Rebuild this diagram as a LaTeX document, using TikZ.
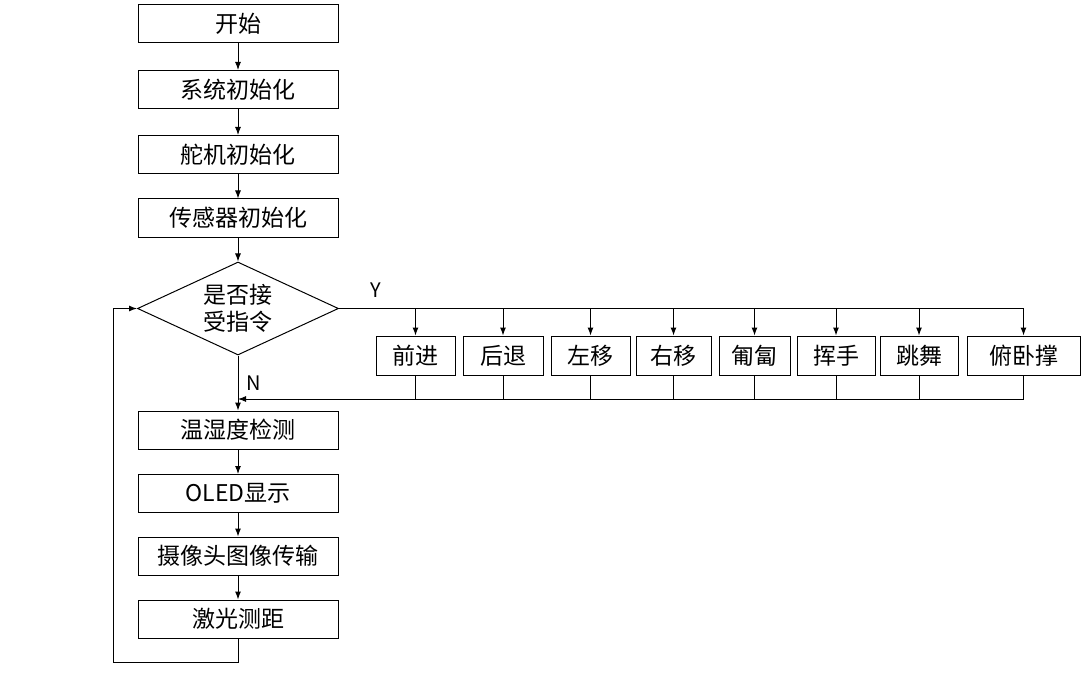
\documentclass[tikz,border=0pt]{standalone}
\usepackage{fontspec}
\setmainfont{Noto Sans CJK SC}
\usetikzlibrary{shapes,arrows,arrows.meta,positioning,calc}

\begin{document}
\begin{tikzpicture}[x=1pt, y=1pt, node distance=64pt, auto, font=\fontsize{23pt}{27pt}\selectfont]
    \tikzstyle{process} = [rectangle, draw, line width=1pt, minimum width=200pt, minimum height=38pt, inner sep=0pt]
    \tikzstyle{action} = [rectangle, draw, line width=1pt, minimum width=79pt, minimum height=39pt, inner sep=0pt]
    \tikzstyle{decision} = [diamond, draw, line width=1pt, aspect=2.16, minimum width=201pt, minimum height=93pt, inner sep=0pt, align=center]
    \tikzstyle{arrow} = [draw, -{Latex[length=8pt,width=6pt]}, line width=1pt]
    \tikzstyle{line} = [draw, line width=1pt]
    \tikzstyle{flag} = [font=\fontsize{20pt}{24pt}\selectfont]

    \useasboundingbox (0,0) rectangle (1085,-682);

    % Initialisation
    \node[process] (start) at (238,-24) {开始};
    \node[process, node distance=65.5pt, below of=start] (sysinit) {系统初始化};
    \node[process, node distance=65pt, below of=sysinit] (servo) {舵机初始化};
    \node[process, node distance=63.5pt, below of=servo] (sensor) {传感器初始化};

    % Command check
    \node[decision, node distance=90.5pt, below of=sensor] (cmd) {是否接\\受指令};

    % Actions
    \node[action] (fwd) at (415.5,-355.5) {前进};
    \node[action, right=7pt of fwd, minimum width=80pt] (back) {后退};
    \node[action, right=7pt of back] (leftmove) {左移};
    \node[action, right=5pt of leftmove, minimum width=75pt] (rightmove) {右移};
    \node[action, right=7pt of rightmove, minimum width=71pt] (crawl) {匍匐};
    \node[action, right=6pt of crawl, minimum width=78pt] (wave) {挥手};
    \node[action, right=4pt of wave, minimum width=78pt] (dance) {跳舞};
    \node[action, right=8pt of dance, minimum width=113pt] (pushup) {俯卧撑};

    % Sensing loop
    \node[process, node distance=121.5pt, below of=cmd] (humid) {温湿度检测};
    \node[process, node distance=63.5pt, below of=humid] (oled) {OLED显示};
    \node[process, node distance=62.5pt, below of=oled] (camera) {摄像头图像传输};
    \node[process, node distance=63pt, below of=camera] (laser) {激光测距};

    \coordinate (join) at (238,-399);
    \coordinate (loopcorner) at (113,-662);

    % Arrows
    \draw[arrow] (start) -- (sysinit);
    \draw[arrow] (sysinit) -- (servo);
    \draw[arrow] (servo) -- (sensor);
    \draw[arrow] (sensor) -- (cmd);
    \draw[line] (cmd.east) -- node[flag, above, pos=0.054, yshift=7pt] {Y} (cmd.east -| pushup.north);
    \foreach \act in {fwd,back,leftmove,rightmove,crawl,wave,dance,pushup}
        \draw[arrow] (cmd.east -| \act.north) -- (\act.north);
    \foreach \act in {fwd,back,leftmove,rightmove,crawl,wave,dance}
        \draw[line] (\act.south) -- (\act.south |- join);
    \draw[arrow] (pushup.south) |- (join);
    \draw[arrow] (cmd.south) -- node[flag, right, xshift=5pt] {N} (humid.north);
    \draw[arrow] (humid) -- (oled);
    \draw[arrow] (oled) -- (camera);
    \draw[arrow] (camera) -- (laser);
    \draw[arrow] (laser.south) |- (loopcorner) |- (cmd.west);
\end{tikzpicture}
\end{document}
